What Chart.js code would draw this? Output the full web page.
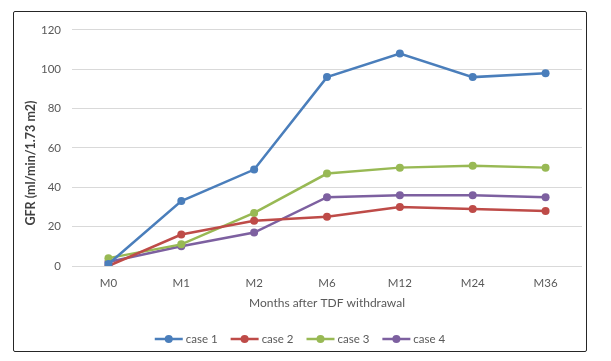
<!DOCTYPE html>
<html>
<head>
<meta charset="utf-8">
<script src="https://cdn.jsdelivr.net/npm/chart.js@4"></script>
<style>
  body { margin: 0; background: #fff; }
  #frame {
    position: absolute; left: 13px; top: 11px;
    width: 572px; height: 339px;
    border: 1px solid #262626; border-radius: 2px;
  }
  #chart { display: block; }
</style>
</head>
<body>
<div id="frame"><canvas id="chart" width="572" height="339"></canvas></div>
<script>
// Données
const months = ["M0", "M1", "M2", "M6", "M12", "M24", "M36"];
const case1 = [1, 33, 49, 96, 108, 96, 98];
const case2 = [0, 16, 23, 25, 30, 29, 28];
const case3 = [4, 11, 27, 47, 50, 51, 50];
const case4 = [2, 10, 17, 35, 36, 36, 35];
const yTicks = [0, 20, 40, 60, 80, 100, 120];

const colors = ["#4A7EBB", "#BE4B48", "#98B954", "#7D60A0"];
const names = ["case 1", "case 2", "case 3", "case 4"];
const series = [case1, case2, case3, case4];

const xTitle = "Months after TDF withdrawal";
const yTitle = "GFR (ml/min/1.73 m2)";

const FONT = "Lato, sans-serif";
const TEXT = "#595959";

const datasets = series.map((data, i) => ({
    label: names[i],
    data: data,
    borderColor: colors[i],
    backgroundColor: colors[i],
    borderWidth: 2.5,
    pointRadius: 4,
    pointHoverRadius: 4,
    pointBorderWidth: 0,
    tension: 0
}));

// Titres des axes et légende façon Excel, dessinés à la main
const decorations = {
    id: "decorations",
    afterDraw(chart) {
        let ctx = chart.ctx;
        let area = chart.chartArea;
        ctx.save();
        ctx.textBaseline = "middle";

        // titre de l'axe X
        ctx.font = "12px " + FONT;
        ctx.fillStyle = TEXT;
        ctx.textAlign = "center";
        ctx.fillText(xTitle, (area.left + area.right) / 2, 291);

        // titre de l'axe Y
        ctx.save();
        ctx.translate(17, 151);
        ctx.rotate(-Math.PI / 2);
        ctx.font = "bold 12.5px " + FONT;
        ctx.fillStyle = "#404040";
        ctx.fillText(yTitle, 0, 0);
        ctx.restore();

        // légende
        ctx.font = "11.5px " + FONT;
        ctx.textAlign = "left";
        let lineW = 28, gap = 3, itemGap = 13, y = 327;
        let widths = chart.data.datasets.map(ds => lineW + gap + ctx.measureText(ds.label).width);
        let total = widths.reduce((a, b) => a + b, 0) + itemGap * (widths.length - 1);
        let x = (chart.width - total) / 2;
        chart.data.datasets.forEach((ds, i) => {
            ctx.strokeStyle = ds.borderColor;
            ctx.lineWidth = 2.5;
            ctx.beginPath(); ctx.moveTo(x, y); ctx.lineTo(x + lineW, y); ctx.stroke();
            ctx.fillStyle = ds.borderColor;
            ctx.beginPath(); ctx.arc(x + lineW / 2, y, 4, 0, Math.PI * 2); ctx.fill();
            ctx.fillStyle = TEXT;
            ctx.fillText(ds.label, x + lineW + gap, y);
            x += widths[i] + itemGap;
        });
        ctx.restore();
    }
};

new Chart(document.getElementById("chart"), {
    type: "line",
    data: { labels: months, datasets: datasets },
    plugins: [decorations],
    options: {
        responsive: false,
        animation: false,
        layout: { padding: { top: 8, right: 2, left: 0, bottom: 0 } },
        plugins: {
            tooltip: { enabled: false },
            legend: { display: false }
        },
        scales: {
            x: {
                offset: true,
                grid: { display: false, drawTicks: false },
                border: { display: false },
                ticks: { font: { family: FONT, size: 11.5 }, color: TEXT, padding: 10 },
                afterFit: scale => { scale.height = 85; }
            },
            y: {
                min: 0, max: 120,
                afterBuildTicks: scale => { scale.ticks = yTicks.map(v => ({ value: v })); },
                grid: { color: "#D9D9D9", lineWidth: 1, drawTicks: false },
                border: { display: false },
                ticks: { font: { family: FONT, size: 11.5 }, color: TEXT, padding: 11 },
                afterFit: scale => { scale.width = 58; }
            }
        }
    }
});
</script>
</body>
</html>
